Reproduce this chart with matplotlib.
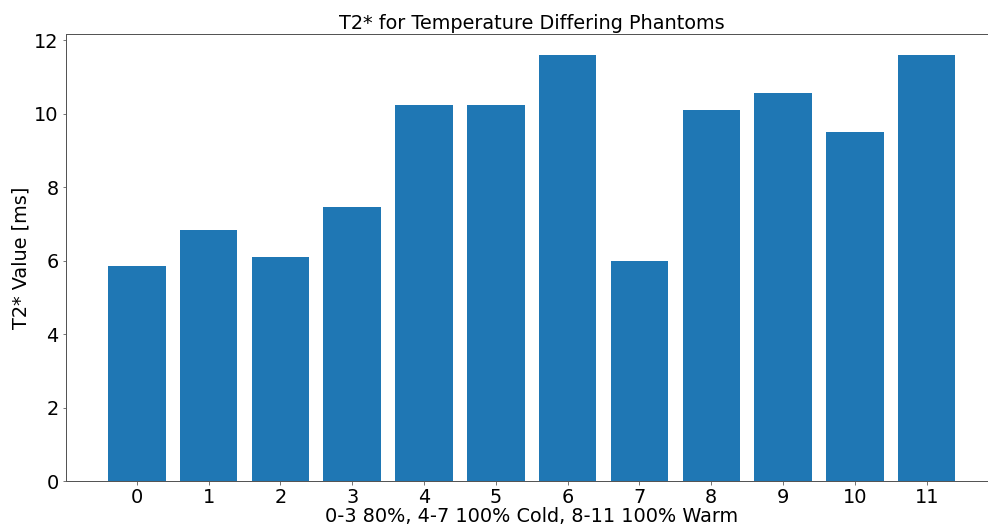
import matplotlib
matplotlib.use("Agg")
import matplotlib.pyplot as plt

categories = list(range(12))
t2_values = [5.87, 6.83, 6.10, 7.46, 10.24, 10.24, 11.61, 5.99, 10.12, 10.58, 9.50, 11.60]
tick_labels = [str(c) for c in categories]

fs = 19.3
plt.rcParams['font.size'] = fs
fig = plt.figure(figsize=(988/72, 526/72), dpi=72)
ax = fig.add_axes([65.7/988, (526-481.3)/526, (997.8-65.7)/988, (481.3-33.5)/526])
ax.bar(categories, t2_values, color='#1f77b4')
ax.set_xticks(categories)
ax.set_xticklabels(tick_labels)
for s in ax.spines.values():
    s.set_color('#555555')
    s.set_linewidth(1.0)
ax.tick_params(color='#555555')
ax.set_title('T2* for Temperature Differing Phantoms', fontsize=fs, pad=5)
ax.set_xlabel('0-3 80%, 4-7 100% Cold, 8-11 100% Warm', fontsize=fs, labelpad=0)
ax.set_ylabel('T2* Value [ms]', fontsize=fs)
fig.savefig('out.png', dpi=72)
